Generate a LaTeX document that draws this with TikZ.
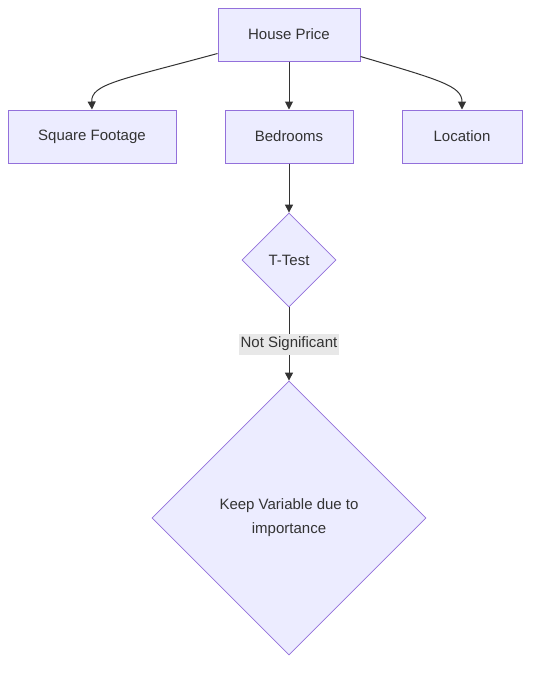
\documentclass[tikz,border=0pt]{standalone}
\usepackage{fontspec}
\setmainfont{Liberation Sans}
\usetikzlibrary{shapes.geometric,arrows.meta}
\definecolor{nodefill}{HTML}{ECECFF}
\definecolor{nodestroke}{HTML}{9370DB}
\definecolor{txt}{HTML}{333333}
\definecolor{lblbg}{HTML}{E8E8E8}
\begin{document}
\begin{tikzpicture}[x=1pt,y=-1pt,
  every node/.style={font=\fontsize{15}{24}\selectfont, text=txt},
  boxnode/.style={draw=nodestroke, fill=nodefill, line width=1pt, rectangle, inner sep=0pt},
  decnode/.style={draw=nodestroke, fill=nodefill, line width=0.8pt, diamond, inner sep=0pt, aspect=1},
  edge/.style={draw=txt, line width=1pt, -{Triangle[length=8pt,width=8pt]}},
  lbl/.style={fill=lblbg, inner sep=2pt, minimum height=21pt}]
\useasboundingbox (0,0) rectangle (538,673);
\fill[white] (0,0) rectangle (538,673);
\node[boxnode, minimum width=142pt, minimum height=53pt] (hp) at (289,34.5) {House Price};
\node[boxnode, minimum width=168pt, minimum height=53pt] (sf) at (92,136.5) {Square Footage};
\node[boxnode, minimum width=128pt, minimum height=53pt] (bd) at (289,136.5) {Bedrooms};
\node[boxnode, minimum width=120pt, minimum height=53pt] (lc) at (462,136.5) {Location};
\node[decnode, minimum width=94pt, minimum height=94pt] (tt) at (289,260) {T-Test};
\node[decnode, minimum width=274pt, minimum height=274pt, align=center] (kv) at (289,518) {Keep Variable due to\\importance};
\coordinate (hpl) at ([yshift=8pt]hp.south west);
\coordinate (hpr) at ([yshift=5pt]hp.south east);
\draw[edge] (hpl) .. controls (120,80) and (91,84) .. (sf.north);
\draw[edge] (hpr) .. controls (440,80) and (462,86) .. (lc.north);
\draw[edge] (hp.south) -- (bd.north);
\draw[edge] (bd.south) -- (tt.north);
\draw[edge] (tt.south) -- node[lbl] (ns) {Not Significant} (kv.north);
\end{tikzpicture}
\end{document}
